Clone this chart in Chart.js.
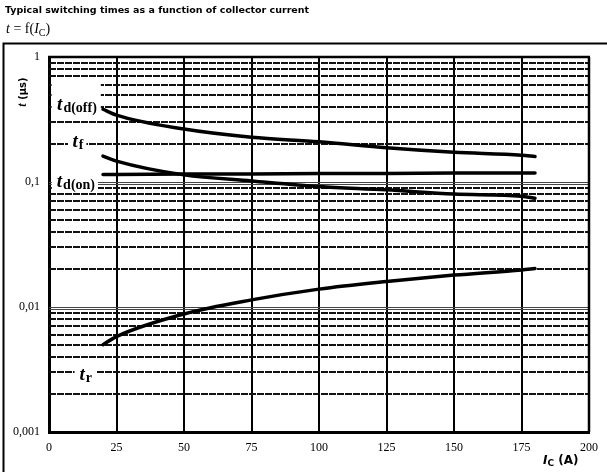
<!DOCTYPE html>
<html>
<head>
<meta charset="utf-8">
<script src="https://cdn.jsdelivr.net/npm/chart.js@4.4.0/dist/chart.umd.min.js"></script>
<style>
  body { margin: 0; background: #fff; }
  #wrap { position: relative; width: 607px; height: 472px; overflow: hidden; }
  #chart { position: absolute; left: 0; top: 0; }
  .title { position: absolute; left: 5px; top: 4px; font: bold 9.5px "DejaVu Sans"; white-space: nowrap; }
  .formula { position: absolute; left: 6px; top: 21px; font: 14px "Liberation Serif"; white-space: nowrap; }
  .formula sub { font-size: 10px; vertical-align: baseline; position: relative; top: 3px; }
</style>
</head>
<body>
<div id="wrap">
  <canvas id="chart" width="607" height="472"></canvas>
  <div class="title">Typical switching times as a function of collector current</div>
  <div class="formula"><i>t</i> = f(<i>I</i><sub>C</sub>)</div>
</div>
<script>
// collector current I_C (A)
const currentA = [20, 25, 50, 75, 100, 125, 150, 175, 180];
// switching times (µs)
const tdOff = [0.382, 0.343, 0.265, 0.228, 0.210, 0.188, 0.173, 0.164, 0.160];
const tFall = [0.161, 0.147, 0.114, 0.102, 0.092, 0.0866, 0.080, 0.077, 0.074];
const tdOn  = [0.115, 0.115, 0.116, 0.116, 0.117, 0.117, 0.118, 0.118, 0.118];
const tRise = [0.0050, 0.0058, 0.0088, 0.0114, 0.0139, 0.0160, 0.0180, 0.0198, 0.0203];

const decades = [0.001, 0.01, 0.1, 1];
const decadeLabels = ['0,001', '0,01', '0,1', '1'];

// curve name labels: position in data units, white box padding in px
const curveLabels = [
  { sub: 'd(off)', x: 3.0, v: 0.377, padL: 5.5, padR: 4, up: 30, down: 4 },
  { sub: 'f', x: 8.7, v: 0.192, padL: 4.5, padR: 3, up: 13, down: 6 },
  { sub: 'd(on)', x: 2.9, v: 0.092, padL: 5, padR: 3, up: 12, down: 4 },
  { sub: 'r', x: 11.3, v: 0.00262, padL: 5, padR: 4, up: 12, down: 6 }
];

function hline(ctx, x0, x1, y) {
  ctx.beginPath();
  ctx.moveTo(x0, y);
  ctx.lineTo(x1, y);
  ctx.stroke();
}

const paperGrid = {
  id: 'paperGrid',
  beforeDatasetsDraw(chart) {
    const {ctx, chartArea: a, scales: {x, y}} = chart;
    ctx.save();
    // minor log lines
    ctx.strokeStyle = '#111';
    ctx.lineWidth = 2;
    ctx.setLineDash([7, 1]);
    for (let i = 0; i < decades.length - 1; i++) {
      for (let m = 2; m <= 9; m++) {
        const py = Math.round(y.getPixelForValue(decades[i] * m));
        hline(ctx, a.left, a.right, py);
      }
    }
    // inner decade lines (double thin)
    ctx.setLineDash([]);
    ctx.lineWidth = 1;
    ctx.strokeStyle = '#444';
    [0.01, 0.1].forEach(d => {
      const py = Math.round(y.getPixelForValue(d));
      hline(ctx, a.left, a.right, py + 0.5);
      hline(ctx, a.left, a.right, py + 2.5);
    });

    // curve labels with white backing
    ctx.textBaseline = 'alphabetic';
    curveLabels.forEach(l => {
      const px = x.getPixelForValue(l.x);
      const py = y.getPixelForValue(l.v);
      ctx.font = 'italic bold 19px "Liberation Serif"';
      const wt = ctx.measureText('t').width;
      ctx.font = 'bold 14px "Liberation Serif"';
      const ws = ctx.measureText(l.sub).width;
      const right = px + wt + 1 + ws;
      ctx.fillStyle = '#fff';
      ctx.fillRect(px - l.padL, py - l.up, right - px + l.padL + l.padR, l.up + l.down);
      ctx.fillStyle = '#000';
      ctx.font = 'italic bold 19px "Liberation Serif"';
      ctx.fillText('t', px, py);
      ctx.font = 'bold 14px "Liberation Serif"';
      ctx.fillText(l.sub, px + wt + 1, py + 2);
    });
    ctx.restore();
  },
  afterDatasetsDraw(chart) {
    const {ctx, chartArea: a} = chart;
    ctx.save();
    ctx.strokeStyle = '#000';
    ctx.lineWidth = 2.5;
    hline(ctx, a.left - 1, a.right + 1, a.top);
    ctx.beginPath();
    ctx.moveTo(a.right, a.top);
    ctx.lineTo(a.right, a.bottom);
    ctx.stroke();
    ctx.restore();
  },
  afterDraw(chart) {
    const {ctx} = chart;
    ctx.save();
    // outer frame
    ctx.strokeStyle = '#000';
    ctx.lineWidth = 2;
    ctx.strokeRect(3.5, 43.5, 700, 600);

    // y axis title, rotated
    ctx.translate(26, 92);
    ctx.rotate(-Math.PI / 2);
    ctx.fillStyle = '#000';
    ctx.textBaseline = 'alphabetic';
    ctx.font = 'italic bold 12px "Liberation Serif"';
    const w1 = ctx.measureText('t').width;
    ctx.font = 'bold 10px "DejaVu Sans"';
    const w2 = ctx.measureText(' (µs)').width;
    let sx = -(w1 + w2) / 2;
    ctx.font = 'italic bold 12px "Liberation Serif"';
    ctx.fillText('t', sx, 0);
    ctx.font = 'bold 10px "DejaVu Sans"';
    ctx.fillText(' (µs)', sx + w1, 0);
    ctx.setTransform(1, 0, 0, 1, 0, 0);

    // x axis title
    let tx = 543, ty = 464;
    ctx.font = 'italic bold 12px "DejaVu Sans"';
    ctx.fillText('I', tx, ty);
    tx += ctx.measureText('I').width;
    ctx.font = 'bold 9px "DejaVu Sans"';
    ctx.fillText('C', tx, ty + 2);
    tx += ctx.measureText('C').width;
    ctx.font = 'bold 12px "DejaVu Sans"';
    ctx.fillText(' (A)', tx, ty);
    ctx.restore();
  }
};

const lineStyle = {
  borderColor: '#000',
  borderWidth: 3.5,
  pointRadius: 0,
  cubicInterpolationMode: 'monotone',
  borderCapStyle: 'round',
  fill: false
};

new Chart(document.getElementById('chart').getContext('2d'), {
  type: 'line',
  data: {
    labels: currentA,
    datasets: [
      { label: 'td(off)', data: tdOff, ...lineStyle },
      { label: 'tf', data: tFall, ...lineStyle },
      { label: 'td(on)', data: tdOn, ...lineStyle },
      { label: 'tr', data: tRise, ...lineStyle }
    ].map(ds => ({ ...ds, data: ds.data.map((v, i) => ({ x: currentA[i], y: v })) }))
  },
  options: {
    responsive: false,
    devicePixelRatio: 1,
    animation: false,
    layout: { padding: { left: 0, top: 57, right: 18, bottom: 0 } },
    plugins: { legend: { display: false }, tooltip: { enabled: false }, title: { display: false } },
    scales: {
      x: {
        type: 'linear',
        min: 0,
        max: 200,
        grid: { color: '#000', lineWidth: 2, drawTicks: false },
        border: { color: '#000', width: 3 },
        ticks: {
          stepSize: 25,
          padding: 9,
          color: '#000',
          font: { family: 'Liberation Serif', size: 12 },
          maxRotation: 0
        },
        afterFit(s) { s.height = 40; }
      },
      y: {
        type: 'logarithmic',
        min: 0.001,
        max: 1,
        grid: { display: false, drawTicks: false },
        border: { display: true, color: '#000', width: 3 },
        ticks: {
          autoSkip: false,
          padding: 9,
          color: '#000',
          font: { family: 'Liberation Serif', size: 12 },
          callback(v) {
            const idx = decades.findIndex(d => Math.abs(d - v) < d * 1e-6);
            return idx >= 0 ? decadeLabels[idx] : '';
          }
        },
        afterFit(s) { s.width = 49; }
      }
    }
  },
  plugins: [paperGrid]
});
</script>
</body>
</html>
